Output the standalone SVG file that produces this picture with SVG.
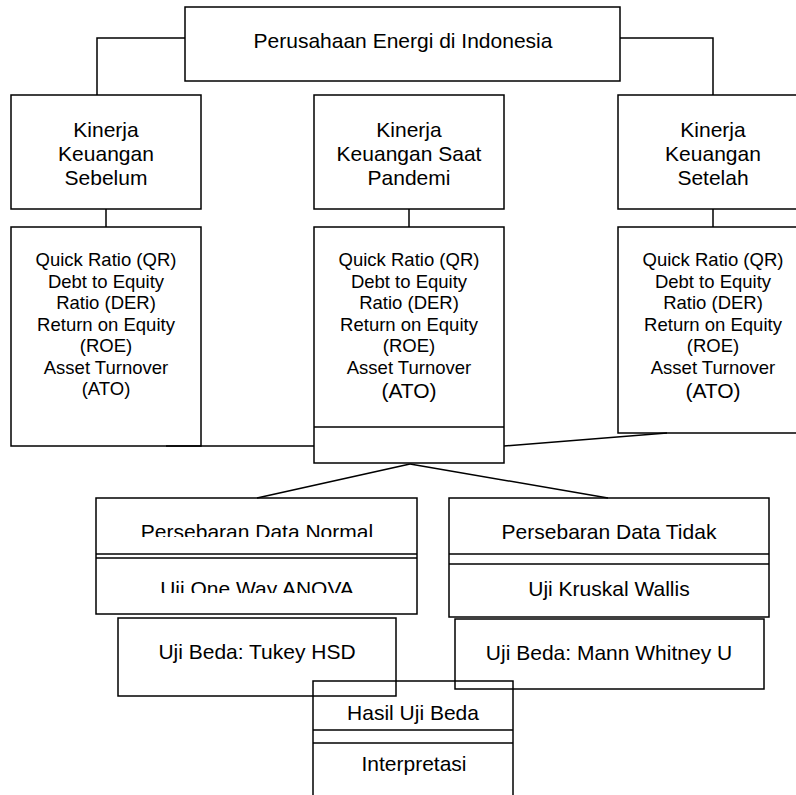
<svg xmlns="http://www.w3.org/2000/svg" width="796" height="795" viewBox="0 0 796 795">
<style>
rect,line,polyline{fill:none;stroke:#000;stroke-width:1.5}
rect.bg{fill:#fff;stroke:none}
text{font-family:"Liberation Sans",Arial,sans-serif;fill:#000;text-anchor:middle}
.t{font-size:21px}
.s{font-size:18.5px}
</style>
<defs>
<clipPath id="c1"><rect x="96" y="498" width="321" height="39"/></clipPath>
<clipPath id="c2"><rect x="96" y="558" width="321" height="35"/></clipPath>
</defs>
<rect class="bg" width="796" height="795"/>
<g id="connectors">
<polyline points="185,38 97,38 97,95"/>
<polyline points="620,38 713,38 713,95"/>
<line x1="106" y1="209" x2="106" y2="227"/>
<line x1="409" y1="209" x2="409" y2="227"/>
<line x1="713" y1="209" x2="713" y2="227"/>
<line x1="166" y1="446" x2="314" y2="446"/>
<line x1="667" y1="433" x2="504" y2="446"/>
<line x1="410" y1="464" x2="257" y2="498"/>
<line x1="410" y1="464" x2="608" y2="498"/>
</g>
<g id="top">
<rect x="185" y="7" width="435" height="74"/>
<text class="t" x="403" y="48">Perusahaan Energi di Indonesia</text>
</g>
<g id="kinerja-sebelum">
<rect x="11" y="95" width="190" height="114"/>
<text class="t" x="106" y="137">Kinerja</text>
<text class="t" x="106" y="161">Keuangan</text>
<text class="t" x="106" y="185">Sebelum</text>
</g>
<g id="kinerja-saat">
<rect x="314" y="95" width="190" height="114"/>
<text class="t" x="409" y="137">Kinerja</text>
<text class="t" x="409" y="161">Keuangan Saat</text>
<text class="t" x="409" y="185">Pandemi</text>
</g>
<g id="kinerja-setelah">
<rect x="618" y="95" width="190" height="114"/>
<text class="t" x="713" y="137">Kinerja</text>
<text class="t" x="713" y="161">Keuangan</text>
<text class="t" x="713" y="185">Setelah</text>
</g>
<g id="rasio-sebelum">
<rect x="11" y="227" width="190" height="219"/>
<text class="s" x="106" y="266">Quick Ratio (QR)</text>
<text class="s" x="106" y="287.5">Debt to Equity</text>
<text class="s" x="106" y="309">Ratio (DER)</text>
<text class="s" x="106" y="330.5">Return on Equity</text>
<text class="s" x="106" y="352">(ROE)</text>
<text class="s" x="106" y="373.5">Asset Turnover</text>
<text class="s" x="106" y="395">(ATO)</text>
</g>
<g id="rasio-saat">
<rect x="314" y="227" width="190" height="236"/>
<line x1="314" y1="427" x2="504" y2="427"/>
<text class="s" x="409" y="266">Quick Ratio (QR)</text>
<text class="s" x="409" y="287.5">Debt to Equity</text>
<text class="s" x="409" y="309">Ratio (DER)</text>
<text class="s" x="409" y="330.5">Return on Equity</text>
<text class="s" x="409" y="352">(ROE)</text>
<text class="s" x="409" y="373.5">Asset Turnover</text>
<text class="t" x="409" y="398">(ATO)</text>
</g>
<g id="rasio-setelah">
<rect x="618" y="227" width="190" height="206"/>
<text class="s" x="713" y="266">Quick Ratio (QR)</text>
<text class="s" x="713" y="287.5">Debt to Equity</text>
<text class="s" x="713" y="309">Ratio (DER)</text>
<text class="s" x="713" y="330.5">Return on Equity</text>
<text class="s" x="713" y="352">(ROE)</text>
<text class="s" x="713" y="373.5">Asset Turnover</text>
<text class="t" x="713" y="398">(ATO)</text>
</g>
<g id="normal">
<rect x="96" y="498" width="321" height="116"/>
<line x1="96" y1="554" x2="417" y2="554"/>
<line x1="96" y1="558" x2="417" y2="558"/>
<text class="t" x="257" y="539" clip-path="url(#c1)">Persebaran Data Normal</text>
<text class="t" x="257" y="596" clip-path="url(#c2)">Uji One Way ANOVA</text>
</g>
<g id="tidak-normal">
<rect x="449" y="498" width="320" height="119"/>
<line x1="449" y1="554" x2="769" y2="554"/>
<line x1="449" y1="564" x2="769" y2="564"/>
<text class="t" x="609" y="539">Persebaran Data Tidak</text>
<text class="t" x="609" y="596">Uji Kruskal Wallis</text>
</g>
<g id="tukey">
<rect x="118" y="618" width="278" height="78"/>
<text class="t" x="257" y="659">Uji Beda: Tukey HSD</text>
</g>
<g id="mann-whitney">
<rect x="455" y="619" width="309" height="70"/>
<text class="t" x="609" y="660">Uji Beda: Mann Whitney U</text>
</g>
<g id="hasil">
<rect x="313" y="681" width="200" height="130"/>
<line x1="313" y1="730" x2="513" y2="730"/>
<line x1="313" y1="743" x2="513" y2="743"/>
<text class="t" x="413" y="720">Hasil Uji Beda</text>
<text class="t" x="414" y="771">Interpretasi</text>
</g>
</svg>
